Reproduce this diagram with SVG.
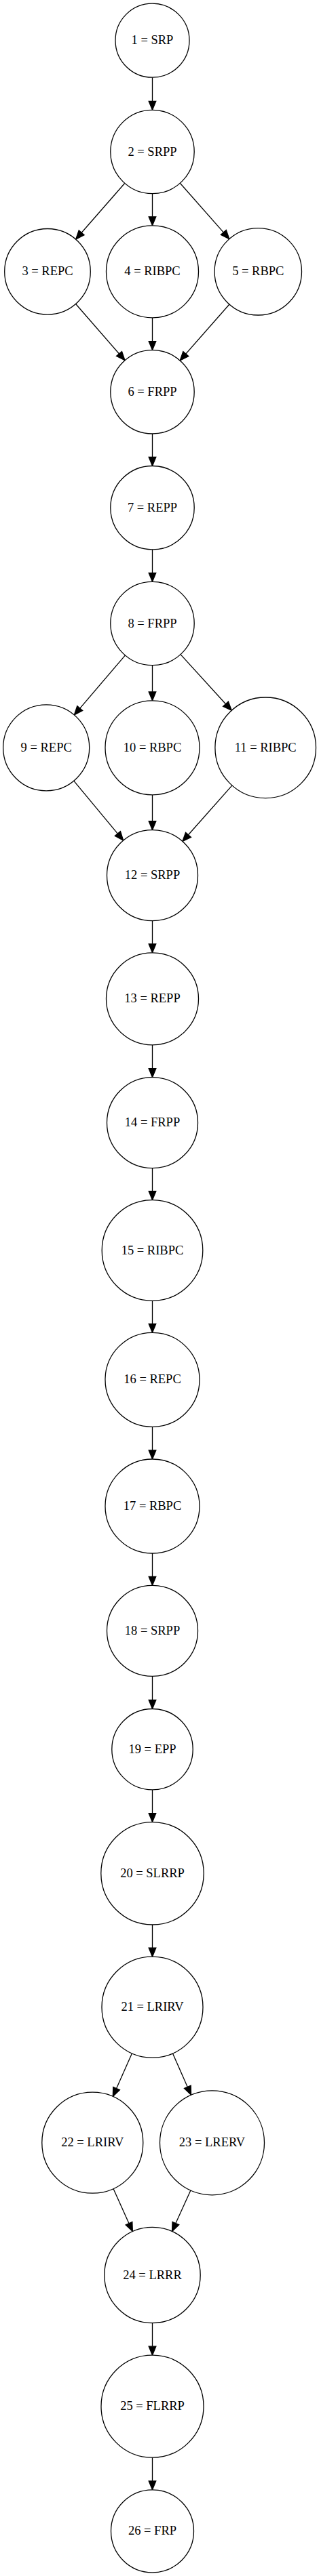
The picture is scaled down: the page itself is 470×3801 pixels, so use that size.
<svg xmlns="http://www.w3.org/2000/svg" width="470" height="3801" viewBox="0 0 470 3801">
<style>
.n circle{fill:#fff;stroke:#000;stroke-width:1.3}
.n text{font-family:"Liberation Serif","Times New Roman",serif;font-size:18.5px;text-anchor:middle;fill:#000}
.e line{stroke:#000;stroke-width:1.3;fill:none;marker-end:url(#ah)}
</style>
<defs>
<marker id="ah" markerUnits="userSpaceOnUse" viewBox="0 -5.5 13.5 11" refX="0" refY="0" markerWidth="13.5" markerHeight="11" orient="auto" overflow="visible">
<path d="M0,-5.3 L13,0 L0,5.3 Z" fill="#000" stroke="#000" stroke-width="1.3"/>
</marker>
</defs>
<rect width="470" height="3801" fill="#fff"/>
<g id="edges" class="e">
<line x1="224.5" y1="114.2" x2="224.5" y2="149.3"/>
<line x1="183.7" y1="270.5" x2="120.2" y2="343.3"/>
<line x1="224.5" y1="285.7" x2="224.5" y2="319.8"/>
<line x1="265.3" y1="270.3" x2="329.3" y2="342.9"/>
<line x1="111.6" y1="448.5" x2="175.5" y2="522"/>
<line x1="224.5" y1="468.8" x2="224.5" y2="503.6"/>
<line x1="338" y1="449" x2="273.8" y2="522.1"/>
<line x1="224.5" y1="640" x2="224.5" y2="674.5"/>
<line x1="224.5" y1="810.9" x2="224.5" y2="845.3"/>
<line x1="184.5" y1="966.9" x2="117.8" y2="1045.1"/>
<line x1="224.5" y1="981.7" x2="224.5" y2="1020.8"/>
<line x1="266" y1="965.6" x2="332.5" y2="1038.7"/>
<line x1="108.7" y1="1152.2" x2="173.4" y2="1230.1"/>
<line x1="224.5" y1="1172.8" x2="224.5" y2="1211.7"/>
<line x1="342" y1="1158.9" x2="277.5" y2="1231.8"/>
<line x1="224.5" y1="1358.7" x2="224.5" y2="1392.8"/>
<line x1="224.5" y1="1541.8" x2="224.5" y2="1576.7"/>
<line x1="224.5" y1="1723.7" x2="224.5" y2="1757.7"/>
<line x1="224.5" y1="1919.3" x2="224.5" y2="1953.3"/>
<line x1="224.5" y1="2105.3" x2="224.5" y2="2140"/>
<line x1="224.5" y1="2292" x2="224.5" y2="2326.3"/>
<line x1="224.5" y1="2473.3" x2="224.5" y2="2508.5"/>
<line x1="224.5" y1="2640.9" x2="224.5" y2="2675.6"/>
<line x1="224.5" y1="2840" x2="224.5" y2="2874.2"/>
<line x1="194.4" y1="3029.9" x2="171.6" y2="3081.6"/>
<line x1="254.5" y1="3029.9" x2="276.3" y2="3079.4"/>
<line x1="167" y1="3229.6" x2="190" y2="3280.7"/>
<line x1="280.9" y1="3232" x2="258.9" y2="3280.6"/>
<line x1="224.5" y1="3427.7" x2="224.5" y2="3462.2"/>
<line x1="224.5" y1="3626.2" x2="224.5" y2="3660.8"/>
</g>
<g id="node1" class="n"><circle cx="224.5" cy="59.7" r="54.5"/><text x="224.5" y="65.2">1 = SRP</text></g>
<g id="node2" class="n"><circle cx="224.5" cy="224" r="61.7"/><text x="224.5" y="229.5">2 = SRPP</text></g>
<g id="node3" class="n"><circle cx="70" cy="400.8" r="63.3"/><text x="70" y="406.3">3 = REPC</text></g>
<g id="node4" class="n"><circle cx="224.5" cy="400.8" r="68"/><text x="224.5" y="406.3">4 = RIBPC</text></g>
<g id="node5" class="n"><circle cx="380.3" cy="400.8" r="64.2"/><text x="380.3" y="406.3">5 = RBPC</text></g>
<g id="node6" class="n"><circle cx="224.5" cy="578.3" r="61.7"/><text x="224.5" y="583.8">6 = FRPP</text></g>
<g id="node7" class="n"><circle cx="224.5" cy="749.2" r="61.7"/><text x="224.5" y="754.7">7 = REPP</text></g>
<g id="node8" class="n"><circle cx="224.5" cy="920" r="61.7"/><text x="224.5" y="925.5">8 = FRPP</text></g>
<g id="node9" class="n"><circle cx="68.2" cy="1103.3" r="63.5"/><text x="68.2" y="1108.8">9 = REPC</text></g>
<g id="node10" class="n"><circle cx="224.5" cy="1103.3" r="69.5"/><text x="224.5" y="1108.8">10 = RBPC</text></g>
<g id="node11" class="n"><circle cx="391.2" cy="1103.3" r="74.3"/><text x="391.2" y="1108.8">11 = RIBPC</text></g>
<g id="node12" class="n"><circle cx="224.5" cy="1291.7" r="67"/><text x="224.5" y="1297.2">12 = SRPP</text></g>
<g id="node13" class="n"><circle cx="224.5" cy="1473.8" r="68"/><text x="224.5" y="1479.3">13 = REPP</text></g>
<g id="node14" class="n"><circle cx="224.5" cy="1656.7" r="67"/><text x="224.5" y="1662.2">14 = FRPP</text></g>
<g id="node15" class="n"><circle cx="224.5" cy="1845" r="74.3"/><text x="224.5" y="1850.5">15 = RIBPC</text></g>
<g id="node16" class="n"><circle cx="224.5" cy="2035.8" r="69.5"/><text x="224.5" y="2041.3">16 = REPC</text></g>
<g id="node17" class="n"><circle cx="224.5" cy="2222.5" r="69.5"/><text x="224.5" y="2228">17 = RBPC</text></g>
<g id="node18" class="n"><circle cx="224.5" cy="2406.3" r="67"/><text x="224.5" y="2411.8">18 = SRPP</text></g>
<g id="node19" class="n"><circle cx="224.5" cy="2581.2" r="59.7"/><text x="224.5" y="2586.7">19 = EPP</text></g>
<g id="node20" class="n"><circle cx="224.5" cy="2764.3" r="75.7"/><text x="224.5" y="2769.8">20 = SLRRP</text></g>
<g id="node21" class="n"><circle cx="224.5" cy="2961.7" r="74.5"/><text x="224.5" y="2967.2">21 = LRIRV</text></g>
<g id="node22" class="n"><circle cx="136.3" cy="3161.7" r="74.5"/><text x="136.3" y="3167.2">22 = LRIRV</text></g>
<g id="node23" class="n"><circle cx="312.5" cy="3161.8" r="77"/><text x="312.5" y="3167.3">23 = LRERV</text></g>
<g id="node24" class="n"><circle cx="224.5" cy="3357" r="70.7"/><text x="224.5" y="3362.5">24 = LRRR</text></g>
<g id="node25" class="n"><circle cx="224.5" cy="3550.7" r="75.5"/><text x="224.5" y="3556.2">25 = FLRRP</text></g>
<g id="node26" class="n"><circle cx="224.5" cy="3734.8" r="61"/><text x="224.5" y="3740.3">26 = FRP</text></g>
</svg>
